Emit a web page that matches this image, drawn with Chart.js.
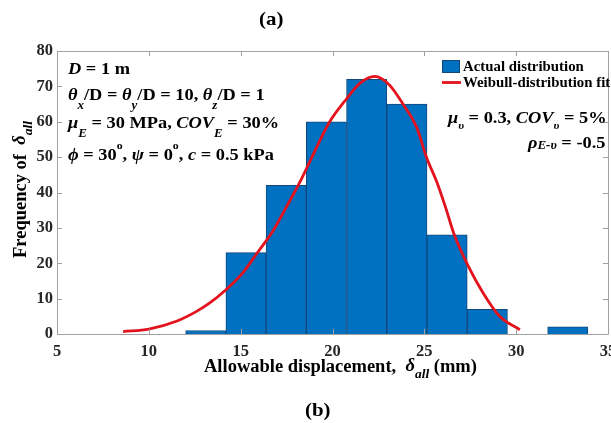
<!DOCTYPE html>
<html>
<head>
<meta charset="utf-8">
<title>Allowable displacement histogram</title>
<script src="https://cdn.jsdelivr.net/npm/chart.js"></script>
<style>
  html, body { margin: 0; padding: 0; background: #fff; }
  canvas { display: block; }
</style>
</head>
<body>
<canvas id="chart" width="611" height="423"></canvas>
<script>
// histogram of allowable displacement with a Weibull fit
const binCenters = [13.1, 15.29, 17.48, 19.67, 21.86, 24.05, 26.24, 28.43, 30.62, 32.81];
const binCounts = [1, 23, 42, 60, 72, 65, 28, 7, 0, 2];
const fitX = [8.6, 10.0, 11.5, 12.6, 13.3, 14.2, 15.1, 15.9, 16.8, 17.5, 18.2, 18.9, 19.8, 20.8, 21.5, 22.3, 23.1, 23.8, 24.6, 25.1, 25.7, 26.2, 26.6, 27.4, 28.2, 29.1, 30.2];
const fitY = [0.7, 1.4, 3.6, 6.4, 8.7, 12.5, 17.2, 22.9, 29.5, 36.0, 42.7, 50.2, 59.6, 66.7, 70.9, 72.8, 70.4, 65.3, 58.2, 50.2, 42.7, 35.1, 28.5, 19.1, 11.6, 5.0, 1.2];
const xTicks = [5, 10, 15, 20, 25, 30, 35];
const yTicks = [0, 10, 20, 30, 40, 50, 60, 70, 80];

const SERIF = '"Liberation Serif", "Times New Roman", serif';
const B = s => `bold ${s}px ${SERIF}`;
const I = s => `italic bold ${s}px ${SERIF}`;

// draw a row of text pieces (for sub/superscripts), sx = horizontal stretch
function runs(c, x, y, parts, sx) {
  c.save();
  c.translate(x, y);
  c.scale(sx || 1, 1);
  c.textAlign = 'left';
  c.textBaseline = 'alphabetic';
  let cx = 0;
  for (const p of parts) {
    c.font = p.f;
    c.fillText(p.t, cx + (p.dx || 0), p.dy || 0);
    cx += c.measureText(p.t).width + (p.dx || 0);
  }
  c.restore();
}

const frame = {
  id: 'frame',
  afterDraw(chart) {
    const c = chart.ctx;
    const a = chart.chartArea;
    const xs = chart.scales.x, ys = chart.scales.y;
    c.save();
    // axes box with inward ticks
    c.strokeStyle = '#a0a0a0';
    c.lineWidth = 1;
    c.beginPath();
    c.rect(a.left + 0.5, a.top + 0.5, a.right - a.left, a.bottom - a.top);
    for (const v of xTicks) {
      const px = Math.round(xs.getPixelForValue(v)) + 0.5;
      c.moveTo(px, a.bottom); c.lineTo(px, a.bottom - 5);
      c.moveTo(px, a.top); c.lineTo(px, a.top + 5);
    }
    for (const v of yTicks) {
      const py = Math.round(ys.getPixelForValue(v)) + 0.5;
      c.moveTo(a.left, py); c.lineTo(a.left + 5, py);
      c.moveTo(a.right, py); c.lineTo(a.right - 5, py);
    }
    c.stroke();

    c.fillStyle = '#000';
    // panel labels
    runs(c, 259, 25, [{ t: '(a)', f: B(19) }], 1.1);
    runs(c, 305, 416, [{ t: '(b)', f: B(19) }], 1.1);

    // axis titles
    runs(c, 204, 372, [
      { t: 'Allowable displacement,  ', f: B(18.5) },
      { t: 'δ', f: I(18.5), dy: -1 },
      { t: 'all', f: I(13.5), dy: 6 },
      { t: ' (mm)', f: B(18.5) }
    ]);
    c.save();
    c.translate(26, 258);
    c.rotate(-Math.PI / 2);
    runs(c, 0, 0, [
      { t: 'Frequency of  ', f: B(18.5) },
      { t: 'δ', f: I(18.5), dy: -1 },
      { t: 'all', f: I(13.5), dy: 6 }
    ]);
    c.restore();

    // parameter annotations
    const sx = 1.08;
    runs(c, 68, 74, [
      { t: 'D', f: I(17) }, { t: ' = 1 m', f: B(17) }
    ], sx);
    runs(c, 68, 100, [
      { t: 'θ', f: I(17) }, { t: 'x', f: I(12), dy: 9 }, { t: '/D = ', f: B(17) },
      { t: 'θ', f: I(17) }, { t: 'y', f: I(12), dy: 9 }, { t: '/D = 10, ', f: B(17) },
      { t: 'θ', f: I(17) }, { t: 'z', f: I(12), dy: 9 }, { t: '/D = 1', f: B(17) }
    ], sx);
    runs(c, 68, 128, [
      { t: 'μ', f: I(17) }, { t: 'E', f: I(12), dy: 9 }, { t: ' = 30 MPa, ', f: B(17) },
      { t: 'COV', f: I(17) }, { t: 'E', f: I(12), dy: 9 }, { t: ' = 30%', f: B(17) }
    ], sx);
    runs(c, 68, 160, [
      { t: 'ϕ', f: I(17) }, { t: ' = 30', f: B(17) }, { t: 'o', f: B(11), dy: -11 },
      { t: ', ', f: B(17) }, { t: 'ψ', f: I(17) }, { t: ' = 0', f: B(17) }, { t: 'o', f: B(11), dy: -11 },
      { t: ', ', f: B(17) }, { t: 'c', f: I(17) }, { t: ' = 0.5 kPa', f: B(17) }
    ], sx);
    runs(c, 448, 123, [
      { t: 'μ', f: I(17) }, { t: 'υ', f: I(11), dy: 6 }, { t: ' = 0.3, ', f: B(17) },
      { t: 'COV', f: I(17) }, { t: 'υ', f: I(11), dy: 6 }, { t: ' = 5%', f: B(17) }
    ], sx);
    runs(c, 528, 148, [
      { t: 'ρ', f: I(17) }, { t: 'E-υ', f: I(12), dy: 1 }, { t: ' = -0.5', f: B(17) }
    ], sx);

    // legend
    c.fillStyle = '#0070c0';
    c.fillRect(442, 60, 18, 13);
    c.strokeStyle = '#14477a';
    c.strokeRect(442.5, 60.5, 17, 12);
    c.strokeStyle = '#e3121c';
    c.lineWidth = 2.8;
    c.beginPath();
    c.moveTo(442, 82.5); c.lineTo(461, 82.5);
    c.stroke();
    c.fillStyle = '#000';
    runs(c, 463, 71, [{ t: 'Actual distribution', f: B(14) }], 1.06);
    runs(c, 463, 87, [{ t: 'Weibull-distribution fit', f: B(14) }], 1.06);
    c.restore();
  }
};

const ctx = document.getElementById('chart').getContext('2d');
new Chart(ctx, {
  type: 'bar',
  data: {
    datasets: [
      {
        type: 'line',
        label: 'Weibull-distribution fit',
        data: fitX.map((x, i) => ({ x, y: fitY[i] })),
        borderColor: '#e3121c',
        borderWidth: 2.8,
        pointRadius: 0,
        cubicInterpolationMode: 'monotone',
        fill: false,
        order: 0
      },
      {
        type: 'bar',
        label: 'Actual distribution',
        data: binCenters.map((x, i) => ({ x, y: binCounts[i] })),
        backgroundColor: '#0070c0',
        borderColor: '#14477a',
        borderWidth: 1,
        borderSkipped: 'start',
        barPercentage: 1,
        categoryPercentage: 1,
        order: 1
      }
    ]
  },
  options: {
    responsive: false,
    animation: false,
    events: [],
    layout: { padding: { top: 51, right: 3, bottom: 51, left: 0 } },
    plugins: { legend: { display: false }, tooltip: { enabled: false } },
    scales: {
      x: {
        type: 'linear', min: 5, max: 35, offset: false,
        grid: { display: false, drawTicks: false },
        border: { display: false },
        afterBuildTicks: s => { s.ticks = xTicks.map(v => ({ value: v })); },
        afterFit: s => { s.height = 38; s.paddingLeft = 0; s.paddingRight = 0; },
        ticks: { autoSkip: false, maxRotation: 0, padding: 8, color: '#262626', font: { family: SERIF, size: 16.5, weight: 'bold' } }
      },
      y: {
        type: 'linear', min: 0, max: 80,
        grid: { display: false, drawTicks: false },
        border: { display: false },
        afterBuildTicks: s => { s.ticks = yTicks.map(v => ({ value: v })); },
        afterFit: s => { s.width = 57; s.paddingTop = 0; s.paddingBottom = 0; },
        ticks: { autoSkip: false, padding: 4, color: '#262626', font: { family: SERIF, size: 16.5, weight: 'bold' } }
      }
    }
  },
  plugins: [frame]
});
</script>
</body>
</html>
